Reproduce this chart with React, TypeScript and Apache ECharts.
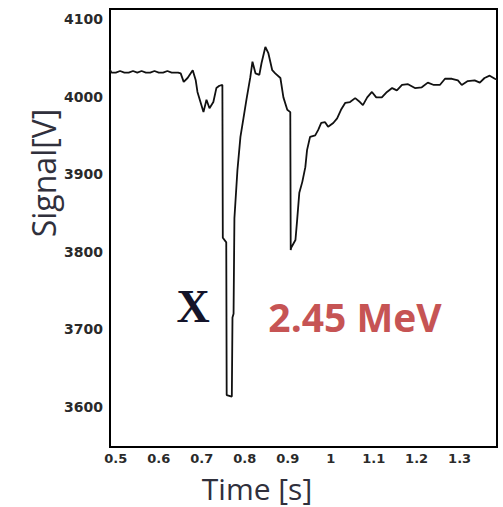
import React, { useEffect, useRef } from "react";
import * as echarts from "echarts";

const time = [
  0.486, 0.49, 0.5, 0.51, 0.52, 0.53, 0.54, 0.55, 0.56, 0.57, 0.58, 0.59, 0.6, 0.61, 0.62, 0.63, 0.645,
  0.651, 0.658, 0.667, 0.679, 0.686, 0.69, 0.697, 0.704, 0.711, 0.718, 0.727, 0.734, 0.741, 0.748,
  0.749, 0.757, 0.758, 0.77, 0.7715, 0.774, 0.776, 0.783, 0.79, 0.797, 0.804, 0.813, 0.818, 0.825,
  0.834, 0.839, 0.848, 0.855, 0.864, 0.871, 0.883, 0.89, 0.899, 0.906, 0.907, 0.908, 0.918, 0.922,
  0.927, 0.934, 0.941, 0.945, 0.952, 0.964, 0.971, 0.978, 0.987, 0.994, 1.006, 1.015, 1.024, 1.034,
  1.045, 1.057, 1.068, 1.075, 1.085, 1.096, 1.106, 1.119, 1.131, 1.143, 1.154, 1.166, 1.18, 1.196,
  1.212, 1.226, 1.24, 1.254, 1.266, 1.282, 1.296, 1.305, 1.319, 1.335, 1.347, 1.358, 1.37, 1.382, 1.387,
];
const signal = [
  4035, 4031, 4031, 4033, 4031, 4031, 4033, 4031, 4033, 4031, 4031, 4033, 4031, 4031, 4033, 4031, 4031,
  4030, 4019, 4024, 4034, 4021, 4006, 3993, 3980, 3996, 3985, 3993, 4011, 4014, 4015,
  3818, 3812, 3615, 3613, 3715, 3720, 3843, 3905, 3948, 3972, 3996, 4025, 4045, 4030,
  4028, 4043, 4064, 4056, 4034, 4030, 4024, 3999, 3983, 3980, 3802, 3805, 3815, 3841,
  3876, 3890, 3909, 3931, 3948, 3950, 3957, 3966, 3967, 3961, 3966, 3972, 3983, 3992,
  3993, 3998, 3993, 3989, 3999, 4006, 3999, 3999, 4006, 4011, 4008, 4015, 4016, 4011,
  4012, 4018, 4015, 4015, 4023, 4023, 4021, 4015, 4020, 4021, 4018, 4024, 4027, 4023, 4022,
];
const xTicks = [0.5, 0.6, 0.7, 0.8, 0.9, 1.0, 1.1, 1.2, 1.3];
const yTicks = [3600, 3700, 3800, 3900, 4000, 4100];
const xName = "Time [s]";
const yName = "Signal[V]";
const particle = "X";
const energy = "2.45 MeV";

export default function App() {
  const ref = useRef<HTMLDivElement>(null);
  useEffect(() => {
    if (!ref.current) return;
    const chart = echarts.init(ref.current, undefined, { renderer: "svg" });
    const data = time.map((t, i) => [t, signal[i]]);
    const labelStyle = {
      fontFamily: "DejaVu Sans",
      fontWeight: "bold" as const,
      fontSize: 13,
      color: "#2a2a2a",
    };
    chart.setOption({
      animation: false,
      backgroundColor: "#ffffff",
      grid: {
        left: 110,
        right: 6,
        top: 9,
        bottom: 60,
        show: true,
        borderColor: "#000",
        borderWidth: 2,
        outerBoundsMode: "none",
      },
      xAxis: {
        type: "value",
        min: 0.4865,
        max: 1.387,
        axisLine: { show: false },
        axisTick: { show: false },
        splitLine: { show: false },
        axisLabel: {
          ...labelStyle,
          customValues: xTicks,
          margin: 5,
          formatter: (v: number) => String(parseFloat(v.toFixed(2))),
        },
      },
      yAxis: {
        type: "value",
        min: 3548,
        max: 4113,
        axisLine: { show: false },
        axisTick: { show: false },
        splitLine: { show: false },
        axisLabel: {
          ...labelStyle,
          fontSize: 14,
          customValues: yTicks,
          margin: 7,
          formatter: (v: number) => String(Math.round(v)),
        },
      },
      series: [
        {
          type: "line",
          data,
          symbol: "none",
          lineStyle: { color: "#111", width: 1.8 },
        },
      ],
      graphic: [
        {
          type: "text",
          x: 257,
          y: 488,
          style: {
            text: xName,
            font: "30px 'Open Sans'",
            fill: "#30303c",
            textAlign: "center",
            textVerticalAlign: "middle",
            align: "center",
            verticalAlign: "middle",
          },
        },
        {
          type: "text",
          x: 43,
          y: 173,
          rotation: Math.PI / 2,
          style: {
            text: yName,
            font: "32px 'Open Sans'",
            fill: "#30303c",
            textAlign: "center",
            textVerticalAlign: "middle",
            align: "center",
            verticalAlign: "middle",
          },
        },
        {
          type: "text",
          x: 193,
          y: 306,
          style: {
            text: particle,
            font: "bold 46px 'Liberation Serif'",
            fill: "#14142a",
            textAlign: "center",
            textVerticalAlign: "middle",
            align: "center",
            verticalAlign: "middle",
          },
        },
        {
          type: "text",
          x: 355,
          y: 316,
          style: {
            text: energy,
            font: "bold 39px 'Open Sans'",
            fill: "#c65454",
            textAlign: "center",
            textVerticalAlign: "middle",
            align: "center",
            verticalAlign: "middle",
          },
        },
      ],
    });
    return () => chart.dispose();
  }, []);
  return (
    <div
      ref={ref}
      style={{ position: "fixed", left: 0, top: 0, width: 503, height: 507 }}
    />
  );
}
